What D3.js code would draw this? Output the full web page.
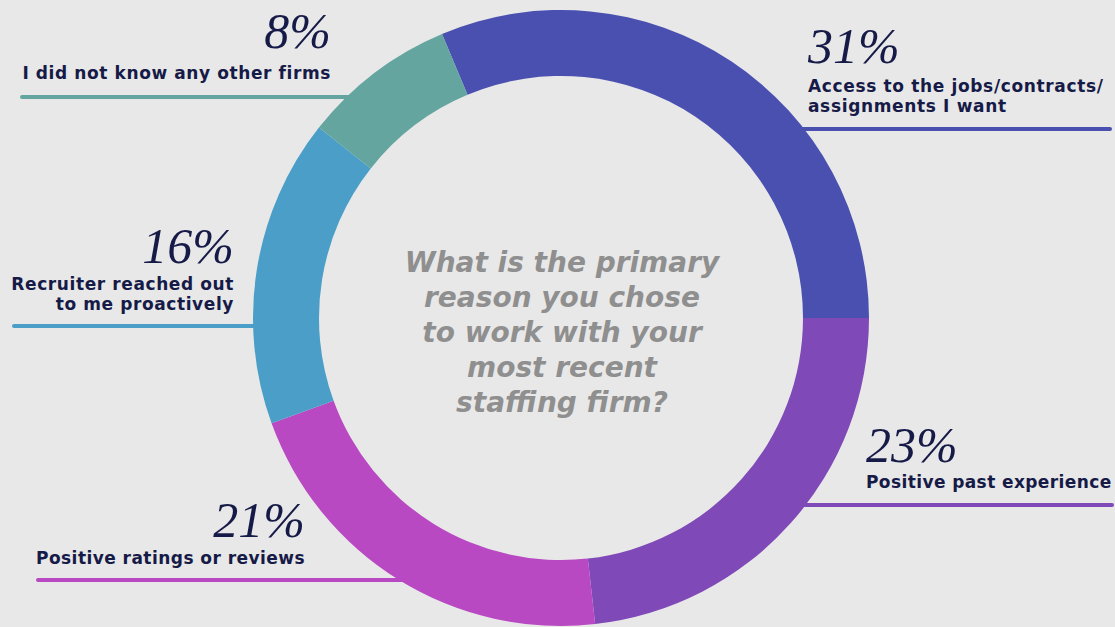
<!DOCTYPE html>
<html>
<head>
<meta charset="utf-8">
<script src="https://cdn.jsdelivr.net/npm/d3@7"></script>
<style>
  html, body { margin: 0; padding: 0; background: #e8e8e8; }
  svg { display: block; }
</style>
</head>
<body>
<svg id="chart" width="1115" height="627"></svg>
<script>
// Survey answers, in clockwise order starting at the top
const reasons = [
  ["Access to the jobs/contracts/", "assignments I want"],
  ["Positive past experience"],
  ["Positive ratings or reviews"],
  ["Recruiter reached out", "to me proactively"],
  ["I did not know any other firms"]
];
const shares = [31, 23, 21, 16, 8];
const pctLabels = ["31%", "23%", "21%", "16%", "8%"];
const sliceColors = ["#4a50b0", "#8049b8", "#b948c3", "#4a9ec7", "#64a69f"];
const question = ["What is the primary", "reason you chose", "to work with your", "most recent", "staffing firm?"];

const W = 1115, H = 627;
const cx = 561, cy = 318, outerR = 308, innerR = 242;
const navy = "#161a47";
const sans = "'DejaVu Sans', sans-serif";

const svg = d3.select("#chart");
svg.append("rect").attr("width", W).attr("height", H).attr("fill", "#e8e8e8");

// Callout placement for each slice's label block
const callouts = [
  { anchor: "start", x: 808, pctY: 63,  textY: 92,  lineY: 129, lineEnd: 1110, spacing: 0.65 },
  { anchor: "start", x: 866, pctY: 462, textY: 488, lineY: 505, lineEnd: 1112, spacing: 0.4 },
  { anchor: "end",   x: 305, pctY: 537, textY: 564, lineY: 580, lineEnd: 38,   spacing: 0.45 },
  { anchor: "end",   x: 234, pctY: 263, textY: 290, lineY: 326, lineEnd: 14,   spacing: 0.6 },
  { anchor: "end",   x: 331, pctY: 48,  textY: 79,  lineY: 97,  lineEnd: 22,   spacing: 0.6 }
];

const midR = (outerR + innerR) / 2;

// Leader lines run in from the page edge and tuck under the ring
const leaders = svg.append("g");
callouts.forEach((c, i) => {
  const dy = c.lineY - cy;
  const dx = Math.sqrt(Math.max(midR * midR - dy * dy, 0));
  const ringX = c.anchor === "start" ? cx + dx : cx - dx;
  leaders.append("line")
    .attr("x1", c.lineEnd).attr("x2", ringX)
    .attr("y1", c.lineY).attr("y2", c.lineY)
    .attr("stroke", sliceColors[i])
    .attr("stroke-width", 4)
    .attr("stroke-linecap", "round");
});

// Donut ring: the first slice closes exactly at three o'clock
const total = d3.sum(shares);
const start = Math.PI / 2 - 2 * Math.PI * shares[0] / total;
const pie = d3.pie().sort(null).value(d => d)
  .startAngle(start).endAngle(start + 2 * Math.PI);
const arc = d3.arc().innerRadius(innerR).outerRadius(outerR);

svg.append("g")
  .attr("transform", `translate(${cx},${cy})`)
  .selectAll("path")
  .data(pie(shares))
  .join("path")
  .attr("d", arc)
  .attr("fill", (d, i) => sliceColors[i]);

// Percentages and answer text
const labels = svg.append("g");
callouts.forEach((c, i) => {
  labels.append("text")
    .attr("x", c.x).attr("y", c.pctY)
    .attr("text-anchor", c.anchor)
    .attr("font-family", "'Liberation Serif', serif")
    .attr("font-style", "italic")
    .attr("font-size", 50)
    .attr("fill", navy)
    .text(pctLabels[i]);
  reasons[i].forEach((line, j) => {
    labels.append("text")
      .attr("x", c.x).attr("y", c.textY + j * 20)
      .attr("text-anchor", c.anchor)
      .attr("font-family", sans)
      .attr("font-weight", 700)
      .attr("font-size", 17)
      .attr("letter-spacing", c.spacing)
      .attr("fill", navy)
      .text(line);
  });
});

// Question in the middle of the ring
svg.append("g")
  .selectAll("text")
  .data(question)
  .join("text")
  .attr("x", cx + 1)
  .attr("y", (d, i) => 272 + i * 35)
  .attr("text-anchor", "middle")
  .attr("font-family", sans)
  .attr("font-style", "italic")
  .attr("font-weight", 700)
  .attr("font-size", 28)
  .attr("fill", "#8f8f8f")
  .text(d => d);
</script>
</body>
</html>
